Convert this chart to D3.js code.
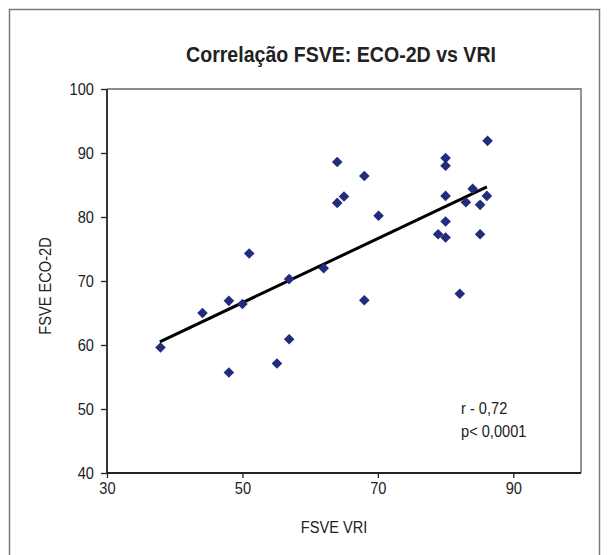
<!DOCTYPE html>
<html>
<head>
<meta charset="utf-8">
<script src="https://cdn.jsdelivr.net/npm/d3@7"></script>
<style>
  html, body { margin: 0; padding: 0; background: #fff; }
  svg { display: block; }
  text { font-family: "Liberation Sans Narrow", "Arial Narrow", "Liberation Sans", Arial, sans-serif; fill: #222; }
</style>
</head>
<body>
<svg id="chart" width="608" height="555"></svg>
<script>
// ---- data ----
const title = "Correlação FSVE: ECO-2D vs VRI";
const xLabel = "FSVE VRI";
const yLabel = "FSVE ECO-2D";
const xTicks = [30, 50, 70, 90];
const yTicks = [40, 50, 60, 70, 80, 90, 100];
const vriValues = [37.9, 44.1, 48.0, 50.0, 48.0, 51.0, 55.1, 56.9, 56.9, 62.0,
                   64.0, 64.0, 65.0, 68.0, 70.1, 68.0, 80.0, 80.0, 80.0, 80.0,
                   78.9, 80.0, 82.1, 83.0, 84.0, 85.1, 86.1, 86.2, 85.1];
const ecoValues = [59.6, 65.0, 66.9, 66.4, 55.7, 74.3, 57.1, 60.9, 70.3, 72.0,
                   88.6, 82.2, 83.2, 86.4, 80.2, 67.0, 89.2, 88.0, 83.3, 79.3,
                   77.3, 76.8, 68.0, 82.3, 84.4, 81.9, 83.3, 91.9, 77.3];
const trendX = [37.8, 86.1];
const trendY = [60.5, 84.7];
const statLines = ["r - 0,72", "p< 0,0001"];

// ---- layout ----
const svg = d3.select("#chart");
const pL = 107, pR = 581, pT = 89, pB = 473;
const FONT = '"Liberation Sans Narrow", "Arial Narrow", "Liberation Sans", Arial, sans-serif';
const SX = 0.86; // horizontal condensation to mimic the narrow face

const x = d3.scaleLinear().domain([30, 100]).range([pL, pR]);
const y = d3.scaleLinear().domain([40, 100]).range([pB, pT]);

// outer frame
svg.append("rect")
  .attr("x", 9.5).attr("y", 9.5).attr("width", 590).attr("height", 560)
  .attr("fill", "none").attr("stroke", "#7a7a7a").attr("stroke-width", 1.5);

// helper: condensed text at a position
function ctext(px, py, str, size, anchor, extra) {
  const t = svg.append("text")
    .attr("transform", `translate(${px},${py}) ${extra || ""} scale(${SX},1)`)
    .attr("text-anchor", anchor)
    .attr("font-size", size)
    .text(str);
  return t;
}

// title
ctext(341, 62, title, 22, "middle", "").attr("font-weight", "bold").attr("fill", "#1a1a1a")
  .attr("transform", "translate(341,62) scale(0.89,1)");

// plot border top/right (gray)
svg.append("path")
  .attr("d", `M${pL},${pT}H${pR}V${pB}`)
  .attr("fill", "none").attr("stroke", "#8a8a8a").attr("stroke-width", 1.8);

// axes
const xAxis = d3.axisBottom(x).tickValues(xTicks).tickSize(5).tickPadding(4);
const yAxis = d3.axisLeft(y).tickValues(yTicks).tickSize(6).tickPadding(7);

const gx = svg.append("g").attr("transform", `translate(0,${pB})`).call(xAxis);
const gy = svg.append("g").attr("transform", `translate(${pL},0)`).call(yAxis);
[gx, gy].forEach(g => {
  g.select(".domain").attr("stroke", "#222").attr("stroke-width", 1.8);
  g.selectAll(".tick line").attr("stroke", "#222").attr("stroke-width", 1.3);
  g.selectAll(".tick text").attr("font-size", 17).attr("fill", "#222")
    .style("font-family", FONT);
});
gx.select(".domain").attr("d", `M${pL},0H${pR}`);
gy.select(".domain").attr("d", `M0,${pB}V${pT}`);
gx.selectAll(".tick text").attr("transform", `scale(${SX},1)`);
gy.selectAll(".tick text").attr("x", 0).attr("transform", `translate(-13,0) scale(${SX},1)`);

// axis labels
ctext(334, 533, xLabel, 17, "middle");
ctext(0, 0, yLabel, 17, "middle").attr("transform", `translate(51,286) rotate(-90) scale(${SX},1)`);

// regression line
const line = d3.line().x(d => x(d[0])).y(d => y(d[1]));
svg.append("path")
  .datum(trendX.map((v, i) => [v, trendY[i]]))
  .attr("d", line)
  .attr("fill", "none").attr("stroke", "#000").attr("stroke-width", 3);

// points (diamonds)
const r = 5.3;
svg.append("g").selectAll("path")
  .data(vriValues.map((v, i) => [v, ecoValues[i]]))
  .join("path")
  .attr("d", d => {
    const cx = x(d[0]), cy = y(d[1]);
    return `M${cx},${cy - r}L${cx + r},${cy}L${cx},${cy + r}L${cx - r},${cy}Z`;
  })
  .attr("fill", "#232c7c");

// stats annotation
statLines.forEach((s, i) => ctext(461, 414 + i * 23, s, 17, "start"));
</script>
</body>
</html>
